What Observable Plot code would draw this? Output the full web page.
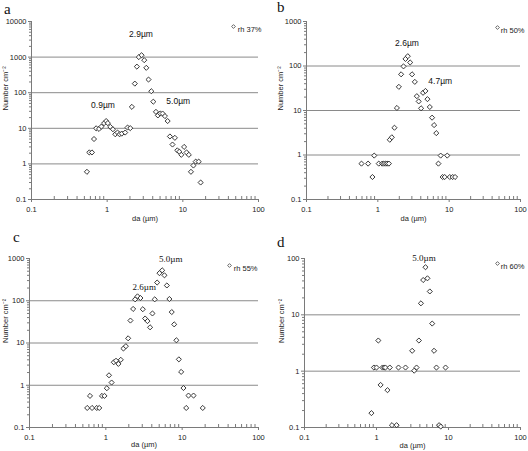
<!DOCTYPE html>
<html><head><meta charset="utf-8">
<script src="https://cdn.jsdelivr.net/npm/d3@7"></script>
<script src="https://cdn.jsdelivr.net/npm/@observablehq/plot@0.6"></script>
<style>
body{margin:0;background:#fff;}
#wrap{position:relative;width:528px;height:451px;overflow:hidden;background:#fff;}
.panel{position:absolute;}
.letter{position:absolute;font-family:"Liberation Serif",serif;font-size:15px;line-height:15px;color:#111;}
</style></head><body><div id="wrap"></div>
<script>
// ---- data ----
const xTicks = [0.1, 1, 10, 100];

const aX = [0.54,0.58,0.63,0.67,0.715,0.78,0.84,0.91,0.97,1.02,1.1,1.19,1.28,1.37,1.46,1.56,1.73,1.86,2.02,2.12,2.32,2.47,2.62,2.85,3.09,3.29,3.52,3.83,4.07,4.41,4.68,5.02,5.4,5.8,6.3,6.75,7.3,7.85,8.45,9.0,9.55,10.4,11.2,12,12.8,13.8,14.8,16.2,17.2];
const aY = [0.6,2.1,2.1,5.0,10,9.6,11.2,13.9,16,14,11,9.4,6.8,7.6,6.8,7.1,7.6,10.5,10.1,40,180,540,1000,1130,820,500,234,110,56,29,23,26,26,22,16,5.9,3.5,5.4,2.4,2.2,1.8,3.0,2.1,1.8,0.6,0.9,1.16,1.16,0.3];
const aYTicks = [0.1, 1, 10, 100, 1000, 10000];
const aGrid = [1, 10, 100, 1000];
const aPeakText = ["2.9µm", "0.9µm", "5.0µm"];
const aPeakX = [2.8, 0.88, 8.7];
const aPeakY = [4380, 45, 59];
const aLegend = "rh 37%";

const bX = [0.59,0.73,0.84,0.89,1.03,1.15,1.21,1.28,1.35,1.43,1.47,1.57,1.71,1.85,1.97,2.12,2.29,2.44,2.63,2.84,3.02,3.3,3.52,3.74,4.04,4.3,4.65,4.96,5.35,5.76,6.15,6.6,7.07,7.6,8.1,8.65,9.4,10.2,11.2,12.1];
const bY = [0.64,0.64,0.32,0.97,0.64,0.64,0.64,0.64,0.64,0.64,2.2,2.5,4.1,11.4,34,65,98,144,166,120,65,44,21,16,11.2,25,27.5,18,12,6.9,4.7,3.1,0.64,0.97,0.32,0.32,0.97,0.32,0.32,0.32];
const bYTicks = [0.1, 1, 10, 100, 1000];
const bGrid = [1, 10, 100];
const bPeakText = ["2.6µm", "4.7µm"];
const bPeakX = [2.56, 7.5];
const bPeakY = [330, 46];
const bLegend = "rh 50%";

const cX = [0.57,0.62,0.66,0.76,0.82,0.89,0.96,1.03,1.1,1.19,1.27,1.36,1.46,1.57,1.7,1.83,1.96,2.1,2.28,2.42,2.6,2.84,3.05,3.27,3.51,3.8,4.08,4.37,4.7,5.04,5.47,5.86,6.3,6.8,7.3,7.86,8.4,9.05,9.7,10.4,11.3,12.1,14.1,18.6];
const cY = [0.29,0.56,0.29,0.29,0.29,0.56,0.56,0.85,1.72,1.16,3.5,3.8,3.2,4.0,7.4,8.4,12.9,34,64,108,127,116,63,38,33,23.5,50,108,270,450,525,400,230,110,54,27.6,11.6,4.1,2.07,0.86,0.29,0.57,0.57,0.29];
const cYTicks = [0.1, 1, 10, 100, 1000];
const cGrid = [1, 10, 100];
const cPeakText = ["5.0µm", "2.6µm"];
const cPeakX = [7.1, 3.18];
const cPeakY = [990, 210];
const cLegend = "rh 55%";

const dX = [0.85,0.92,1.0,1.06,1.14,1.21,1.28,1.33,1.42,1.53,1.64,1.9,2.02,2.53,3.13,3.34,3.6,3.88,4.14,4.45,4.79,5.1,5.5,5.94,6.3,6.8,7.4,7.8,9.1];
const dY = [0.18,1.16,1.16,3.5,0.57,1.16,1.16,1.16,0.46,1.16,0.11,0.11,1.16,1.16,2.3,1.02,1.16,3.5,16,41.5,70,44.5,26,7.0,2.3,1.16,0.11,0.104,1.16];
const dYTicks = [0.1, 1, 10, 100];
const dGrid = [1, 10];
const dPeakText = ["5.0µm"];
const dPeakX = [4.57];
const dPeakY = [100];
const dLegend = "rh 60%";

const yTitle = "Number cm⁻²";
const xTitle = "da (µm)";

// ---- drawing ----
function minorTicks(lo, hi) {
  const out = [];
  for (let d = lo; d < hi * 0.999; d *= 10) for (let k = 2; k <= 9; k++) out.push(+(d * k).toPrecision(3));
  return out;
}

function panel(o) {
  const pts = o.x.map((v, i) => ({x: v, y: o.y[i]}));
  const peaks = o.pt.map((t, i) => ({label: t, x: o.px[i], y: o.py[i]}));
  const yMin = o.yt[0], yMax = o.yt[o.yt.length - 1];
  const axisCol = "#7a7a7a";
  const chart = Plot.plot({
    width: o.w, height: o.h,
    marginLeft: o.m[0], marginRight: o.m[1], marginTop: o.m[2], marginBottom: o.m[3],
    x: {type: "log", domain: [0.1, 100], label: null},
    y: {type: "log", domain: [yMin, yMax], label: null},
    style: {fontFamily: "'Liberation Sans', Arial, sans-serif", fontSize: "7.5px", color: "#222", background: "transparent", overflow: "visible"},
    marks: [
      Plot.ruleY(o.grid, {stroke: "#8a8a8a", strokeWidth: 1}),
      Plot.ruleX([0.1], {stroke: axisCol}),
      Plot.ruleY([yMin], {stroke: axisCol}),
      Plot.axisY({ticks: o.yt, tickSize: 3, tickPadding: 2, tickFormat: d => String(d), label: null, stroke: axisCol}),
      Plot.axisY({ticks: minorTicks(yMin, yMax), tickSize: 2, tickFormat: () => "", label: null, stroke: axisCol}),
      Plot.axisX({ticks: xTicks, tickSize: 3, tickPadding: 4, tickFormat: d => String(d), label: null, stroke: axisCol}),
      Plot.axisX({ticks: minorTicks(0.1, 100), tickSize: -3, tickFormat: () => "", label: null, stroke: axisCol}),
      Plot.dot(pts, {x: "x", y: "y", symbol: "diamond2", r: 2.3, stroke: "#222", strokeWidth: 0.9, fill: "white"}),
      Plot.text(peaks, {x: "x", y: "y", text: "label", fontSize: o.pfs, fontFamily: o.pff, fill: "#111"}),
      Plot.dot([0], {frameAnchor: "top-right", dx: o.lg[0], dy: o.lg[2], symbol: "diamond2", r: 1.7, stroke: "#444", strokeWidth: 0.8, fill: "white"}),
      Plot.text([o.legend], {frameAnchor: "top-right", dx: o.lg[1], dy: o.lg[2], textAnchor: "end", fontSize: 7.5}),
      Plot.text([yTitle], {frameAnchor: "left", rotate: -90, dx: o.yl, fontSize: 7.5}),
      Plot.text([xTitle], {frameAnchor: "bottom", dy: o.xl, fontSize: 7.5})
    ]
  });
  const div = document.createElement("div");
  div.className = "panel";
  div.style.left = o.left + "px";
  div.style.top = o.top + "px";
  div.appendChild(chart);
  document.getElementById("wrap").appendChild(div);
  const L = document.createElement("div");
  L.className = "letter";
  L.textContent = o.letter;
  L.style.left = o.lx + "px";
  L.style.top = o.ly + "px";
  document.getElementById("wrap").appendChild(L);
}

const sans = "'Liberation Sans', Arial, sans-serif";
const serif = "'Liberation Serif', 'Times New Roman', serif";

panel({x: aX, y: aY, yt: aYTicks, grid: aGrid, pt: aPeakText, px: aPeakX, py: aPeakY, legend: aLegend,
  left: 0, top: 0, w: 264, h: 225, m: [31, 6, 21, 26], lg: [-25, 3, 5], yl: -25.5, xl: 21, pfs: 8.5, pff: sans,
  letter: "a", lx: 4, ly: 2});
panel({x: bX, y: bY, yt: bYTicks, grid: bGrid, pt: bPeakText, px: bPeakX, py: bPeakY, legend: bLegend,
  left: 264, top: 0, w: 264, h: 225, m: [42, 8, 21, 26], lg: [-23, 4, 6], yl: -26, xl: 21, pfs: 8.5, pff: sans,
  letter: "b", lx: 277, ly: 0});
panel({x: cX, y: cY, yt: cYTicks, grid: cGrid, pt: cPeakText, px: cPeakX, py: cPeakY, legend: cLegend,
  left: 0, top: 225, w: 264, h: 226, m: [29, 6, 33, 24], lg: [-29, -1, 7], yl: -24, xl: 19, pfs: 9, pff: serif,
  letter: "c", lx: 13, ly: 230});
panel({x: dX, y: dY, yt: dYTicks, grid: dGrid, pt: dPeakText, px: dPeakX, py: dPeakY, legend: dLegend,
  left: 264, top: 225, w: 264, h: 226, m: [40, 8, 33, 24], lg: [-23, 4, 5], yl: -23, xl: 20, pfs: 9, pff: serif,
  letter: "d", lx: 277, ly: 235});
</script>
</body></html>
